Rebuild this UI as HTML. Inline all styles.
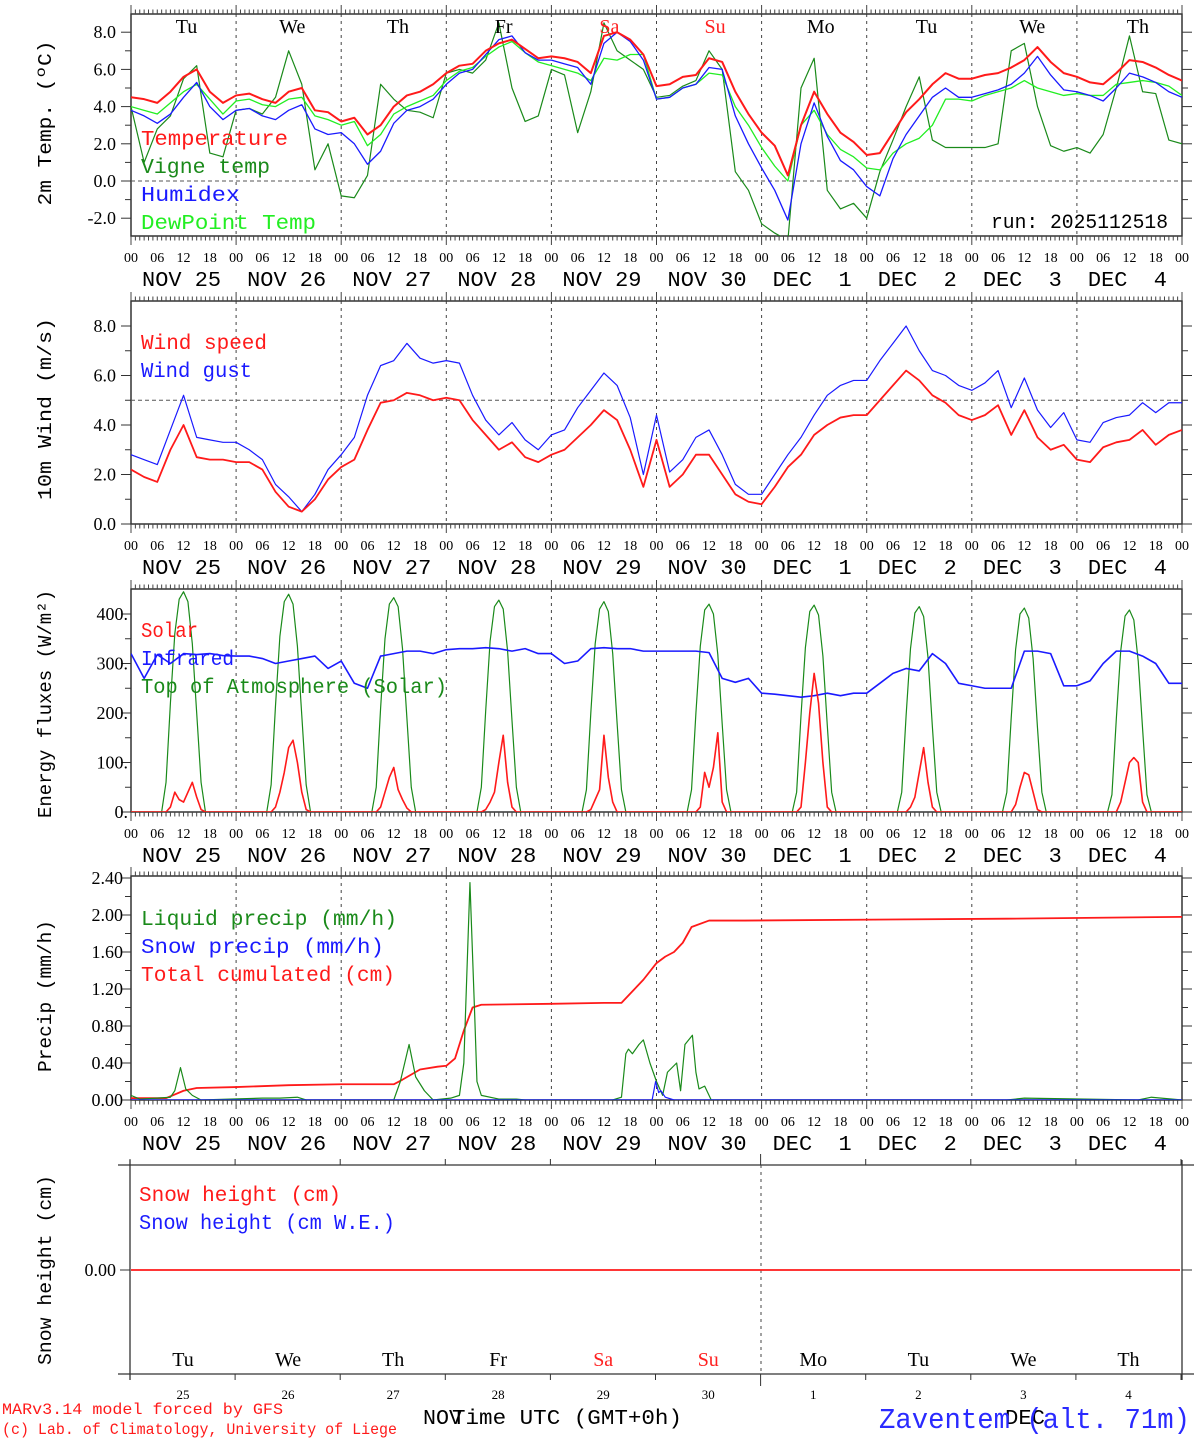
<!DOCTYPE html>
<html><head><meta charset="utf-8"><style>
html,body{margin:0;padding:0;background:#fff;}
svg{display:block;}
text{font-family:"Liberation Serif",serif;white-space:pre;}
text.m{font-family:"Liberation Mono",monospace;}
</style></head><body>
<svg id="chart" width="1194" height="1440" viewBox="0 0 1194 1440" xmlns="http://www.w3.org/2000/svg"></svg>
<script>
// ---------- DATA (3-hourly, from 00 UTC Nov 25 to 00 UTC Dec 5) ----------
const dayLabels=["NOV 25","NOV 26","NOV 27","NOV 28","NOV 29","NOV 30","DEC  1","DEC  2","DEC  3","DEC  4"];
const dayNames=["Tu","We","Th","Fr","Sa","Su","Mo","Tu","We","Th"];
const dayNums=["25","26","27","28","29","30","1","2","3","4"];
const hourLabels=["00","06","12","18"];
const temperature=[4.5,4.4,4.2,4.8,5.6,6.0,4.8,4.2, 4.6,4.7,4.4,4.2,4.8,5.0,3.8,3.7, 3.2,3.4,2.5,3.0,4.0,4.6,4.8,5.2, 5.8,6.2,6.3,7.0,7.4,7.6,7.1,6.6, 6.7,6.6,6.4,5.8,7.8,8.0,7.6,6.8, 5.1,5.2,5.6,5.7,6.6,6.4,4.8,3.6, 2.6,1.9,0.3,3.0,4.8,3.6,2.6,2.1, 1.4,1.5,2.6,3.7,4.4,5.2,5.8,5.5, 5.5,5.7,5.8,6.1,6.5,7.2,6.4,5.8, 5.6,5.3,5.2,5.8,6.5,6.4,6.1,5.7,5.4];
const vigneTemp=[4.0,1.0,2.8,3.5,5.5,6.2,1.5,1.3, 3.8,3.9,3.6,4.5,7.0,5.2,0.6,2.0, -0.8,-0.9,0.3,5.2,4.4,3.8,3.7,3.4, 5.8,6.0,5.8,6.5,8.5,5.0,3.2,3.5, 6.0,5.7,2.6,4.8,8.5,7.0,6.5,6.0, 4.5,4.6,5.1,5.4,7.0,6.0,0.5,-0.5, -2.3,-2.8,-3.2,5.0,6.6,-0.5,-1.5,-1.2, -2.0,0.5,2.2,4.0,5.6,2.2,1.8,1.8, 1.8,1.8,2.0,7.0,7.4,4.0,1.9,1.6, 1.8,1.5,2.5,5.0,7.8,4.8,4.7,2.2,2.0];
const humidex=[3.8,3.5,3.1,3.6,4.5,5.3,4.0,3.3, 3.8,3.9,3.5,3.3,3.8,4.1,2.8,2.5, 2.6,2.0,0.9,1.6,3.1,3.8,4.0,4.4, 5.2,5.8,6.0,6.8,7.6,7.8,6.9,6.5, 6.5,6.3,6.1,5.2,7.4,8.0,7.5,6.5, 4.4,4.5,5.0,5.2,6.1,6.0,3.5,2.0, 0.7,-0.5,-2.1,2.0,4.2,2.4,1.1,0.6, -0.3,-0.8,1.2,2.5,3.5,4.5,5.0,4.5, 4.5,4.7,4.9,5.2,5.8,6.7,5.7,4.9, 4.8,4.6,4.3,5.0,5.8,5.6,5.3,4.8,4.5];
const dewPoint=[4.0,3.8,3.6,4.2,4.8,5.2,4.4,3.6, 4.3,4.4,4.1,4.0,4.4,4.5,3.5,3.3, 3.0,3.2,1.9,2.5,3.6,4.0,4.3,4.6, 5.4,5.9,6.1,6.7,7.2,7.5,6.9,6.4, 6.2,6.0,5.8,5.4,6.6,6.5,6.8,6.8, 4.4,4.5,5.0,5.2,5.8,5.7,4.0,3.0, 1.8,0.8,0.0,3.0,3.8,2.5,1.7,1.3, 0.7,0.6,1.5,2.0,2.3,3.0,4.4,4.4, 4.3,4.6,4.8,5.0,5.4,5.0,4.8,4.6, 4.7,4.6,4.6,5.2,5.3,5.4,5.3,5.1,4.6];
const windSpeed=[2.2,1.9,1.7,3.0,4.0,2.7,2.6,2.6, 2.5,2.5,2.2,1.3,0.7,0.5,1.0,1.8, 2.3,2.6,3.8,4.9,5.0,5.3,5.2,5.0, 5.1,5.0,4.2,3.6,3.0,3.3,2.7,2.5, 2.8,3.0,3.5,4.0,4.6,4.2,3.0,1.5, 3.4,1.5,2.0,2.8,2.8,2.0,1.2,0.9, 0.8,1.5,2.3,2.8,3.6,4.0,4.3,4.4, 4.4,5.0,5.6,6.2,5.8,5.2,4.9,4.4, 4.2,4.4,4.8,3.6,4.6,3.5,3.0,3.2, 2.6,2.5,3.1,3.3,3.4,3.8,3.2,3.6,3.8];
const windGust=[2.8,2.6,2.4,3.8,5.2,3.5,3.4,3.3, 3.3,3.0,2.6,1.6,1.1,0.5,1.2,2.2, 2.8,3.5,5.2,6.4,6.6,7.3,6.7,6.5, 6.6,6.5,5.2,4.2,3.6,4.1,3.4,3.0, 3.6,3.8,4.7,5.4,6.1,5.6,4.3,2.0, 4.4,2.1,2.6,3.5,3.8,2.8,1.6,1.2, 1.2,2.0,2.8,3.5,4.4,5.2,5.6,5.8, 5.8,6.6,7.3,8.0,7.0,6.2,6.0,5.6, 5.4,5.7,6.2,4.7,5.9,4.6,3.9,4.5, 3.4,3.3,4.1,4.3,4.4,4.9,4.5,4.9,4.9];
const infrared=[320,270,318,300,320,318,320,316, 315,315,310,300,305,310,315,290, 305,260,250,315,320,325,325,320, 328,330,330,332,330,325,330,320, 320,300,305,330,332,330,330,325, 325,325,325,325,322,270,262,270, 240,238,235,232,235,240,235,240, 240,260,280,290,285,320,300,260, 255,250,250,250,325,325,320,255, 255,265,300,325,325,315,300,260,260];
// Hourly 06..18 UTC per day
const solarHourly=[
[0,0,0,10,40,25,20,40,60,30,5,0,0],
[0,0,0,10,40,80,130,145,100,40,5,0,0],
[0,0,0,10,40,70,90,45,25,8,0,0,0],
[0,0,0,5,20,40,100,155,60,10,0,0,0],
[0,0,0,5,25,45,155,70,20,0,0,0,0],
[0,0,0,0,10,80,50,90,160,20,0,0,0],
[0,0,0,10,100,200,280,220,100,10,0,0,0],
[0,0,0,0,10,30,80,130,60,10,0,0,0],
[0,0,0,0,15,50,80,75,40,5,0,0,0],
[0,0,0,0,20,60,100,110,100,20,0,0,0]];
const toaHourly=[
[0,0,60,220,360,430,445,425,340,200,60,0,0],
[0,0,55,215,355,425,440,420,335,195,55,0,0],
[0,0,50,210,350,420,433,415,330,190,50,0,0],
[0,0,50,205,345,415,428,410,325,185,50,0,0],
[0,0,45,200,340,410,425,405,320,180,45,0,0],
[0,0,45,200,335,408,420,400,318,178,45,0,0],
[0,0,40,195,332,405,418,398,315,175,40,0,0],
[0,0,40,195,330,402,415,395,312,172,40,0,0],
[0,0,40,190,328,400,412,392,310,170,40,0,0],
[0,0,35,188,325,396,408,388,305,168,35,0,0]];
const liquidHours=[0,2,6,9,10,11.3,12.5,14,16,30,34,38,40,60,61.5,63.5,65,67,69,73,75,76,77.4,78.5,79,80,84,88,90,110,112,113,113.6,114.5,116,117,118.5,120,121.4,122.5,124.6,125.5,126.5,128.2,129,129.7,131,132.5,200,204,230,233,240];
const liquidPrecip=[0.05,0.01,0.02,0.03,0.1,0.35,0.12,0.05,0,0.02,0.02,0.03,0,0,0.2,0.6,0.25,0.1,0,0.02,0.05,0.4,2.35,0.9,0.2,0.05,0.01,0.01,0,0,0.03,0.5,0.55,0.5,0.6,0.65,0.4,0.2,0.05,0.3,0.4,0.1,0.6,0.7,0.3,0.12,0.15,0,0,0.02,0,0.03,0];
const snowHours=[0,119,119.8,120.5,121,122,124,240];
const snowPrecip=[0,0,0.2,0.08,0.1,0.03,0,0];
const cumHours=[0,8,12,15,24,36,48,60,62,66,70,72,74,76,78,80,96,108,112,114,117,120,122,124,126,128,132,140,200,240];
const cumPrecip=[0.02,0.02,0.1,0.13,0.14,0.16,0.17,0.17,0.22,0.33,0.36,0.37,0.45,0.75,1.0,1.03,1.04,1.05,1.05,1.15,1.3,1.48,1.55,1.6,1.7,1.87,1.94,1.94,1.96,1.98];
const snowHeight=[0,0];

// ---------- LAYOUT ----------
const NS="http://www.w3.org/2000/svg";
const svg=document.getElementById('chart');
const X0=131, X1=1182, DW=(X1-X0)/10;
function xh(h){return X0+h*DW/24;}
function mk(tag,attrs,parent){const e=document.createElementNS(NS,tag);for(const k in attrs)e.setAttribute(k,attrs[k]);(parent||svg).appendChild(e);return e;}
function txt(s,x,y,size,fill,anchor,len,parent,mono){const t=mk('text',{x:x,y:y,'font-size':size,fill:fill||'#000','text-anchor':anchor||'start'},parent);if(mono)t.setAttribute('class','m');if(len){t.setAttribute('textLength',len);t.setAttribute('lengthAdjust','spacingAndGlyphs');}t.textContent=s;return t;}
const panels=[
 {top:14,bot:236,y:v=>181-18.6*v,ticks:[-2,0,2,4,6,8],minor:1,fmt:v=>v.toFixed(1),lx:116,min:-2,max:8},
 {top:301,bot:524,y:v=>524-24.75*v,ticks:[0,2,4,6,8],minor:1,fmt:v=>v.toFixed(1),lx:116,min:0,max:8},
 {top:589,bot:812,y:v=>812-0.495*v,ticks:[0,100,200,300,400],minor:50,fmt:v=>v.toFixed(0)+'.',lx:128,min:0,max:400},
 {top:876,bot:1100,y:v=>1100-92.5*v,ticks:[0,0.4,0.8,1.2,1.6,2.0,2.4],minor:0.2,fmt:v=>v.toFixed(2),lx:123,min:0,max:2.4}
];
panels.forEach((p,i)=>{
  const g=mk('g',{});
  
  
  const cp=mk('clipPath',{id:'clip'+i},g);
  mk('rect',{x:X0,y:p.top,width:X1-X0,height:p.bot-p.top},cp);
  for(let d=1;d<10;d++){const l=mk('line',{x1:xh(d*24),x2:xh(d*24),y1:p.top,y2:p.bot,stroke:'#444','stroke-width':1,'stroke-dasharray':'3,4'},g);}
  mk('rect',{x:X0,y:p.top,width:X1-X0,height:p.bot-p.top,fill:'none',stroke:'#333','stroke-width':1.5},g);
  for(let h=0;h<=240;h++){const len=(h%24==0)?10:5;
    mk('line',{x1:xh(h),x2:xh(h),y1:p.top,y2:p.top-len*0.9,stroke:'#444','stroke-width':1},g);
    mk('line',{x1:xh(h),x2:xh(h),y1:p.bot,y2:p.bot+len*0.9,stroke:'#444','stroke-width':1},g);}
  for(let v=p.min;v<=p.max+1e-9;v+=p.minor){const yy=p.y(v);const major=p.ticks.some(t=>Math.abs(t-v)<1e-6);const L=major?10:6;
    mk('line',{x1:X0,x2:X0-L,y1:yy,y2:yy,stroke:'#333','stroke-width':1},g);
    mk('line',{x1:X1,x2:X1+L,y1:yy,y2:yy,stroke:'#333','stroke-width':1},g);}
  p.ticks.forEach(v=>{const t=txt(p.fmt(v),p.lx,p.y(v)+6,18,'#000','end',null,g);});
  for(let d=0;d<=10;d++){for(let k=0;k<4;k++){if(d==10&&k>0)break;const t=txt(hourLabels[k],xh(d*24+k*6),p.bot+26,14,'#000','middle',null,g);}}
  for(let d=0;d<10;d++){const t=txt(dayLabels[d],xh(d*24+12)-2,p.bot+50,21,'#000','middle',79,g,true);}
  p.g=g;
});
function series(pi,hours,vals,color,w,name){const p=panels[pi];let d='';vals.forEach((v,i)=>{d+=(i?'L':'M')+xh(hours[i]).toFixed(2)+','+p.y(v).toFixed(2);});
  const path=mk('path',{d:d,fill:'none',stroke:color,'stroke-width':w,'clip-path':'url(#clip'+pi+')','stroke-linejoin':'round'},p.g);
  
  }
const h3=temperature.map((_,i)=>i*3);
function daily(rows){const hs=[],vs=[];hs.push(0);vs.push(0);rows.forEach((r,d)=>{r.forEach((v,k)=>{hs.push(d*24+6+k);vs.push(v);});});hs.push(240);vs.push(0);return [hs,vs];}

const hl1=mk('line',{x1:X0,x2:X1,y1:panels[0].y(0),y2:panels[0].y(0),stroke:'#555','stroke-dasharray':'4,3'},panels[0].g);


series(0,h3,vigneTemp,'#1a8a1a',1.2,'vigne-temp-line');
series(0,h3,dewPoint,'#22ee22',1.3,'dewpoint-line');
series(0,h3,humidex,'#1a1aff',1.3,'humidex-line');
series(0,h3,temperature,'#ff1a1a',2,'temperature-line');
const hl2=mk('line',{x1:X0,x2:X1,y1:panels[1].y(5),y2:panels[1].y(5),stroke:'#555','stroke-dasharray':'4,3'},panels[1].g);


series(1,h3,windGust,'#1a1aff',1.2,'wind-gust-line');
series(1,h3,windSpeed,'#ff1a1a',1.8,'wind-speed-line');
const toa=daily(toaHourly), sol=daily(solarHourly);
series(2,toa[0],toa[1],'#1a8a1a',1.2,'toa-solar-line');
series(2,h3,infrared,'#1a1aff',1.6,'infrared-line');
series(2,sol[0],sol[1],'#ff1a1a',1.6,'solar-line');
series(3,cumHours,cumPrecip,'#ff1a1a',1.8,'cumulated-precip-line');
series(3,liquidHours,liquidPrecip,'#1a8a1a',1.2,'liquid-precip-line');
series(3,snowHours,snowPrecip,'#1a1aff',1.2,'snow-precip-line');

dayNames.forEach((n,d)=>{const t=txt(n,xh(d*24+12)+3+d*0.6,33,20,(d==4||d==5)?'#ff2020':'#000','middle');});
const run=txt('run: 2025112518',991,228,20,'#000','start',177,null,true);



function leg(s,x,y,c,len){const t=txt(s,x,y,21,c,'start',len,null,true);}
leg('Temperature',141,145,'#ff1a1a',147);leg('Vigne temp',141,173,'#1a8a1a',129);leg('Humidex',141,201,'#1a1aff',99);leg('DewPoint Temp',141,229,'#22ee22',175);
leg('Wind speed',141,349,'#ff1a1a',126);leg('Wind gust',141,377,'#1a1aff',111);
leg('Solar',141,637,'#ff1a1a',57);leg('Infrared',141,665,'#1a1aff',93);leg('Top of Atmosphere (Solar)',141,693,'#1a8a1a',306);
leg('Liquid precip (mm/h)',141,925,'#1a8a1a',256);leg('Snow precip (mm/h)',141,953,'#1a1aff',243);leg('Total cumulated (cm)',141,981,'#ff1a1a',254);
leg('Snow height (cm)',139,1201,'#ff1a1a',202);leg('Snow height (cm W.E.)',139,1229,'#1a1aff',256);

function ytitle(s,cy,len){const t=txt(s,0,0,19,'#000','middle',len,null,true);t.setAttribute('transform','translate(51,'+cy+') rotate(-90)');}
ytitle('2m Temp. (ºC)',123,165);ytitle('10m Wind (m/s)',409,182);ytitle('Energy fluxes (W/m²)',704,228);ytitle('Precip (mm/h)',996,152);ytitle('Snow height (cm)',1270,190);

const g5=mk('g',{});


mk('line',{x1:118,x2:1194,y1:1165,y2:1165,stroke:'#333','stroke-width':1.3},g5);
mk('line',{x1:118,x2:1194,y1:1374,y2:1374,stroke:'#333','stroke-width':1.3},g5);
mk('line',{x1:130,x2:130,y1:1160,y2:1380,stroke:'#333','stroke-width':1.3},g5);
mk('line',{x1:1182,x2:1182,y1:1160,y2:1380,stroke:'#333','stroke-width':1.3},g5);
mk('line',{x1:761,x2:761,y1:1165,y2:1374,stroke:'#444','stroke-dasharray':'3,4'},g5);
for(let d=0;d<=10;d++){const x=X0+d*DW-1;const big=(d==6);
  mk('line',{x1:x,x2:x,y1:1165,y2:big?1154:1159,stroke:'#333'},g5);
  mk('line',{x1:x,x2:x,y1:1374,y2:big?1386:1380,stroke:'#333'},g5);}
mk('line',{x1:130,x2:120,y1:1270,y2:1270,stroke:'#333'},g5);
mk('line',{x1:1182,x2:1192,y1:1270,y2:1270,stroke:'#333'},g5);
const z5=txt('0.00',116,1276,18,'#000','end');


const sh=mk('path',{d:'M'+xh(0)+','+(1270-snowHeight[0]*50)+'L'+(X1-2)+','+(1270-snowHeight[1]*50),stroke:'#ff1a1a','stroke-width':1.8,fill:'none'},g5);


dayNames.forEach((n,d)=>{const t=txt(n,183+105.05*d,1366,20,(d==4||d==5)?'#ff2020':'#000','middle',null,g5);});
dayNums.forEach((n,d)=>{const t=txt(n,183+105.05*d,1399,13,'#000','middle',null,g5);});

const nov=txt('NOV',423,1424,21,'#000','start',39,null,true);


const dec=txt('DEC',1005,1424,21,'#000','start',40,null,true);


const xt=txt('Time UTC (GMT+0h)',452,1424,21,'#000','start',230,null,true);


const c1=txt('MARv3.14 model forced by GFS',2,1414,16,'#ff1a1a','start',281,null,true);


const c2=txt('(c) Lab. of Climatology, University of Liege',2,1434,16,'#ff1a1a','start',395,null,true);


const st=txt('Zaventem (alt. 71m)',879,1428,29,'#2a2aff','start',311,null,true);


</script>
</body></html>
